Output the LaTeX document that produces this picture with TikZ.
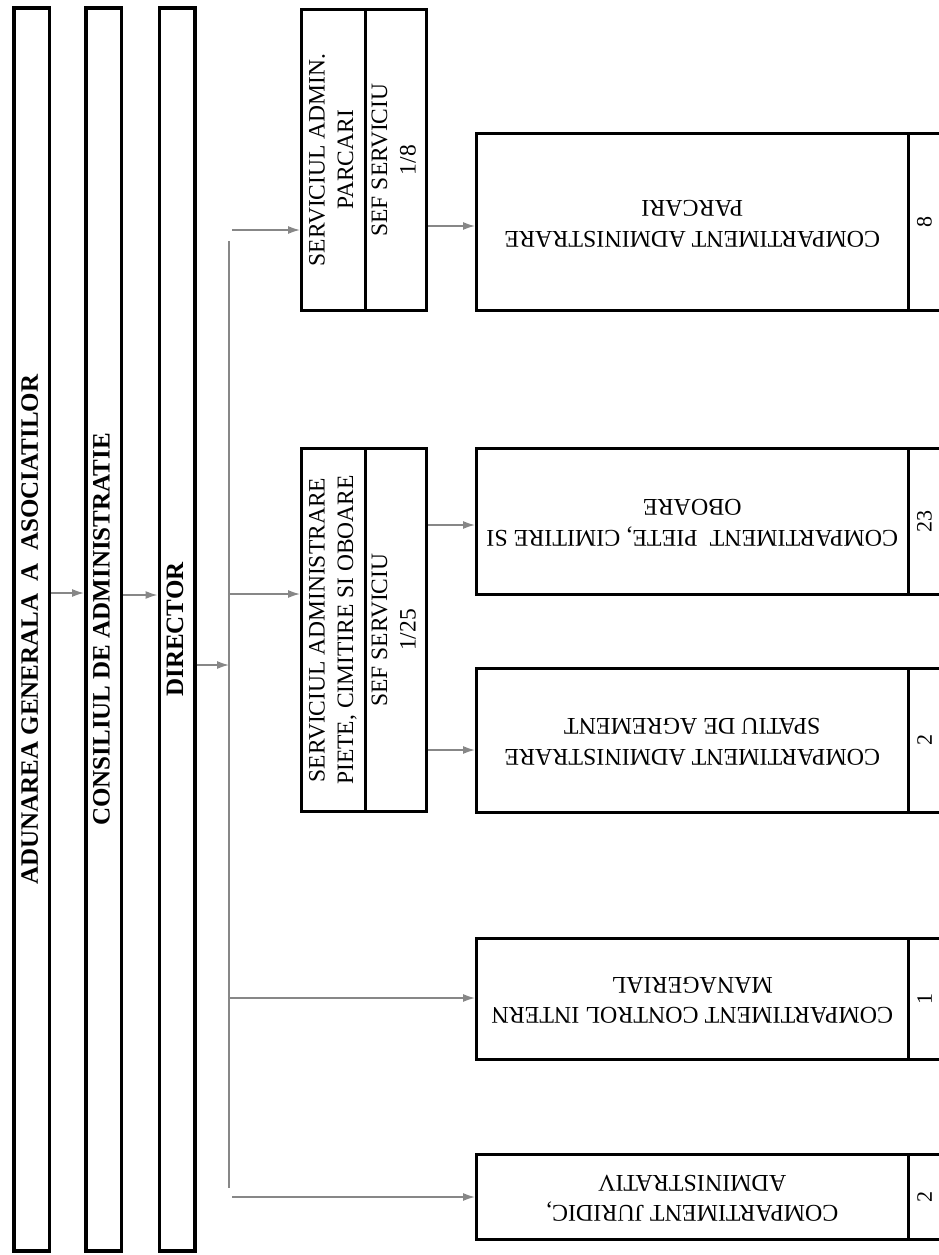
\documentclass[tikz,border=0pt]{standalone}
\usepackage{fontspec}
\setmainfont{Liberation Serif}
\usepackage{graphicx}
\usetikzlibrary{arrows.meta}
\definecolor{conngray}{RGB}{135,135,135}
\newcommand\rtxt[2]{\rotatebox{#1}{\begin{tabular}{@{}c@{}}#2\end{tabular}}}
\begin{document}
\begin{tikzpicture}[x=1pt,y=-1pt,
  bigbox/.style={draw=black, line width=3.5pt, inner sep=0pt, minimum width=35.5pt, minimum height=1243pt, font=\fontsize{25}{30}\selectfont\bfseries},
  serv/.style={draw=black, line width=3pt, inner sep=0pt, font=\fontsize{23.5}{28.5}\selectfont},
  comp/.style={draw=black, line width=3pt, inner sep=0pt, minimum width=431.5pt, font=\fontsize{24}{30.5}\selectfont},
  numcell/.style={draw=black, line width=3pt, inner sep=0pt, minimum width=33pt, font=\fontsize{22}{26}\selectfont},
  conn/.style={draw=conngray, line width=1.5pt, -{Latex[length=12pt,width=8pt]}},
  vline/.style={draw=conngray, line width=1.5pt}
]
\useasboundingbox (0,0) rectangle (939,1255);
\clip (0,0) rectangle (939,1255);
\fill[white] (0,0) rectangle (939,1255);

% tall boxes
\node[bigbox] (A) at (31.8,629.5) {\rtxt{90}{ADUNAREA GENERALA~ A~ ASOCIATILOR}};
\node[bigbox] (B) at (103.5,629.5) {\rtxt{90}{CONSILIUL DE ADMINISTRATIE}};
\node[bigbox] (C) at (177,629.5) {\rtxt{90}{DIRECTOR}};

% services
\node[serv, minimum width=63.5pt, minimum height=301pt] (S1a) at (333.25,160) {\rtxt{90}{SERVICIUL ADMIN.\\PARCARI}};
\node[serv, minimum width=61.5pt, minimum height=301pt] (S1b) at (395.75,160) {\rtxt{90}{SEF SERVICIU\\1/8}};
\node[serv, minimum width=63.5pt, minimum height=363pt] (S2a) at (333.25,630) {\rtxt{90}{SERVICIUL ADMINISTRARE\\PIETE, CIMITIRE SI OBOARE}};
\node[serv, minimum width=61.5pt, minimum height=363pt] (S2b) at (395.75,630) {\rtxt{90}{SEF SERVICIU\\1/25}};

% compartments
\node[comp, minimum height=177pt] (C1) at (692.25,222) {\rtxt{180}{COMPARTIMENT ADMINISTRARE\\PARCARI}};
\node[numcell, minimum height=177pt] (C1n) at (924.5,222) {\rotatebox{90}{8}};
\node[comp, minimum height=146pt] (C2) at (692.25,521) {\rtxt{180}{COMPARTIMENT~ PIETE, CIMITIRE SI\\OBOARE}};
\node[numcell, minimum height=146pt] (C2n) at (924.5,521) {\rotatebox{90}{23}};
\node[comp, minimum height=144pt] (C3) at (692.25,740) {\rtxt{180}{COMPARTIMENT ADMINISTRARE\\SPATIU DE AGREMENT}};
\node[numcell, minimum height=144pt] (C3n) at (924.5,740) {\rotatebox{90}{2}};
\node[comp, minimum height=121pt] (C4) at (692.25,998.5) {\rtxt{180}{COMPARTIMENT CONTROL INTERN\\MANAGERIAL}};
\node[numcell, minimum height=121pt] (C4n) at (924.5,998.5) {\rotatebox{90}{1}};
\node[comp, minimum height=85pt] (C5) at (692.25,1196.5) {\rtxt{180}{COMPARTIMENT JURIDIC,\\ADMINISTRATIV}};
\node[numcell, minimum height=85pt] (C5n) at (924.5,1196.5) {\rotatebox{90}{2}};

% connector levels
\coordinate (yAB) at (0,593);
\coordinate (yBC) at (0,595);
\coordinate (vtop) at (229,241);
\coordinate (vbot) at (229,1188);
\coordinate (jD) at (229,665);
\coordinate (jS1) at (232,230);
\coordinate (jS2) at (229,594);
\coordinate (jC4) at (229,998);
\coordinate (jC5) at (232,1197);
\coordinate (yC1) at (0,226);
\coordinate (yC2) at (0,525);
\coordinate (yC3) at (0,750);

\draw[conn] (A.east |- yAB) -- (B.west |- yAB);
\draw[conn] (B.east |- yBC) -- (C.west |- yBC);
\draw[vline] (vtop) -- (vbot);
\draw[conn] (C.east |- jD) -- (jD);
\draw[conn] (jS1) -- (S1a.west |- jS1);
\draw[conn] (jS2) -- (S2a.west |- jS2);
\draw[conn] (jC4) -- (C4.west |- jC4);
\draw[conn] (jC5) -- (C5.west |- jC5);
\draw[conn] (S1b.east |- yC1) -- (C1.west |- yC1);
\draw[conn] (S2b.east |- yC2) -- (C2.west |- yC2);
\draw[conn] (S2b.east |- yC3) -- (C3.west |- yC3);
\end{tikzpicture}
\end{document}
